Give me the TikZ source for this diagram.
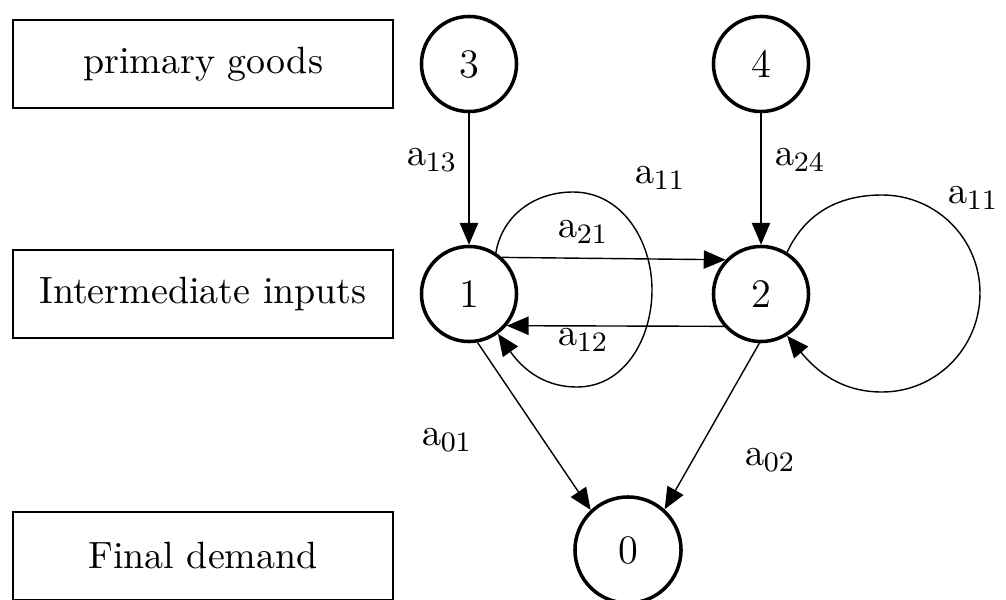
\documentclass[tikz,border=0pt]{standalone}
\usepackage{amsmath}
\usetikzlibrary{arrows.meta}
\tikzset{
  stage/.style={draw,line width=0.55pt,minimum width=3.8cm,minimum height=0.88cm,
    inner sep=0pt,font=\fontsize{10.8}{12}\selectfont},
  good/.style={circle,draw,line width=1pt,minimum size=0.95cm,inner sep=0pt,
    font=\fontsize{11.5}{12}\selectfont},
  arr/.style={-{Triangle[length=6.2pt,width=5.2pt]},line width=0.4pt},
  lab/.style={font=\fontsize{10.8}{12}\selectfont,inner sep=0pt},
}

\begin{document}
\begin{tikzpicture}[x=0.01cm,y=-0.01cm]
    \useasboundingbox (0,0) rectangle (1006,600);
    % levels
    \node[stage] (prim) at (203,64)  {primary goods};
    \node[stage] (mid)  at (203,294) {Intermediate inputs};
    \node[stage] (fin)  at (203,556) {Final demand};

    % goods
    \node[good] (n3) at (469,64)  {3};
    \node[good] (n4) at (761,64)  {4};
    \node[good] (n1) at (469,294) {1};
    \node[good] (n2) at (761,294) {2};
    \node[good,minimum size=1.06cm] (n0) at (628,550) {0};

    % flows
    \draw[arr] (n3) -- (n1);
    \draw[arr] (n4) -- (n2);
    \draw[arr] (n1.48) -- (n2.136);
    \draw[arr] (n2.221) -- (n1.-40);
    \draw[arr] (n1.-80) -- (n0.133);
    \draw[arr] (n2.-92) -- (n0.48);
    \draw[arr] (n1.57) to[out=80,in=180] (573,192) to[out=0,in=90] (652,290)
      to[out=-90,in=0] (577,387) to[out=180,in=-55] (n1.-54);
    \draw[arr] (n2.58) to[out=65,in=180] (882,195) to[out=0,in=90] (980,293)
      to[out=-90,in=0] (882,392) to[out=180,in=-50] (n2.-58);

    % coefficients
    \node[lab] (l13) at (432,160) {$\mathrm{a}_{13}$};
    \node[lab] (l24) at (800,160) {$\mathrm{a}_{24}$};
    \node[lab] (l11a) at (660,178) {$\mathrm{a}_{11}$};
    \node[lab] (l21) at (583,232) {$\mathrm{a}_{21}$};
    \node[lab] (l12) at (583,340) {$\mathrm{a}_{12}$};
    \node[lab] (l11b) at (973,198) {$\mathrm{a}_{11}$};
    \node[lab] (l01) at (447,440) {$\mathrm{a}_{01}$};
    \node[lab] (l02) at (770,460) {$\mathrm{a}_{02}$};
\end{tikzpicture}
\end{document}
